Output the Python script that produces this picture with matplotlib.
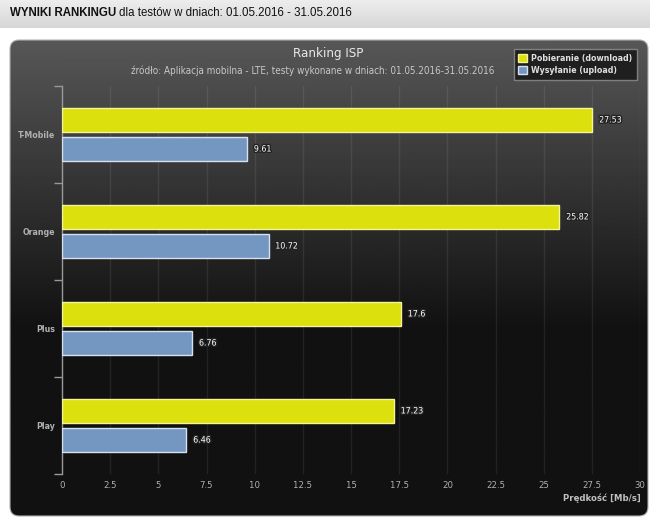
import numpy as np
import matplotlib
matplotlib.use('Agg')
import matplotlib.pyplot as plt
import matplotlib.patheffects as pe
from matplotlib.patches import FancyBboxPatch

# data
operators = ['T-Mobile', 'Orange', 'Plus', 'Play']
download = [27.53, 25.82, 17.6, 17.23]
upload = [9.61, 10.72, 6.76, 6.46]
download_labels = ['27.53', '25.82', '17.6', '17.23']
upload_labels = ['9.61', '10.72', '6.76', '6.46']
x_ticks = [0, 2.5, 5, 7.5, 10, 12.5, 15, 17.5, 20, 22.5, 25, 27.5, 30]
x_tick_labels = ['0', '2.5', '5', '7.5', '10', '12.5', '15', '17.5', '20', '22.5', '25', '27.5', '30']

W, H = 650, 520
cond = dict(family='DejaVu Sans', stretch='condensed')

fig = plt.figure(figsize=(6.5, 5.2), dpi=100)
fig.patch.set_facecolor('white')

## background: header band + rounded dark panel
bg = fig.add_axes([0, 0, 1, 1])
bg.axis('off')

head = np.linspace(0.93, 0.84, 50).reshape(-1, 1)
bg.imshow(head, cmap='gray', vmin=0, vmax=1, extent=(0, W, 28, 0),
          aspect='auto', origin='upper')

panel = FancyBboxPatch((10, 40), 638, 476, boxstyle='round,pad=0,rounding_size=9',
                       facecolor='none', edgecolor='#b0b0b0', linewidth=0.8)
bg.add_patch(panel)
t = np.linspace(0, 1, 300)
shade = np.where(t < 0.6, 0.34 - (0.34 - 0.07) * (t / 0.6), 0.07)
im = bg.imshow(shade.reshape(-1, 1), cmap='gray', vmin=0, vmax=1,
               extent=(10, 648, 516, 40), aspect='auto', origin='upper')
im.set_clip_path(panel)
bg.set_xlim(0, W)
bg.set_ylim(H, 0)

## header text: bold part, then the rest right after it
t1 = fig.text(10 / W, 1 - 13 / H, 'WYNIKI RANKINGU', fontsize=8.3, fontweight='bold',
              family='Liberation Sans', va='center', color='#111111')
fig.canvas.draw()
x_end = t1.get_window_extent().x1
fig.text(x_end / W + 0.004, 1 - 13 / H, 'dla testów w dniach: 01.05.2016 - 31.05.2016',
         fontsize=8.3, family='Liberation Sans', va='center', color='#111111')

## titles
fig.text(328 / W, 1 - 54 / H, 'Ranking ISP', fontsize=9.5, ha='center', va='center',
         color='#e8e8e8', **cond)
fig.text(313 / W, 1 - 71 / H,
         'źródło: Aplikacja mobilna - LTE, testy wykonane w dniach: 01.05.2016-31.05.2016',
         fontsize=7.1, ha='center', va='center', color='#c8c8c8', **cond)

## plot area
ax = fig.add_axes([62 / W, 1 - 474 / H, 578 / W, 388 / H])
ax.set_facecolor('none')

y = np.arange(len(operators))
off = 0.15
h = 0.24
ax.barh(y - off, download, height=h, color='#dce00c', edgecolor='#f4f49a',
        linewidth=1, zorder=3, label='Pobieranie (download)')
ax.barh(y + off, upload, height=h, color='#7497c2', edgecolor='#d6e0ee',
        linewidth=1, zorder=3, label='Wysyłanie (upload)')

stroke = [pe.withStroke(linewidth=2, foreground='#222222')]
for i in range(len(operators)):
    ax.text(download[i] + 0.35, y[i] - off, download_labels[i], fontsize=6.3,
            color='white', va='center', zorder=4, path_effects=stroke, **cond)
    ax.text(upload[i] + 0.35, y[i] + off, upload_labels[i], fontsize=6.3,
            color='white', va='center', zorder=4, path_effects=stroke, **cond)

ax.set_xlim(0, 30)
ax.set_ylim(3.5, -0.5)
ax.set_xticks(x_ticks)
ax.set_xticklabels(x_tick_labels, fontsize=6.8, color='#b0b0b0', **cond)
ax.set_yticks(y)
ax.set_yticklabels(operators, fontsize=6.3, fontweight='bold', color='#b0b0b0', **cond)
ax.set_yticks(np.arange(-0.5, 4, 1), minor=True)
ax.tick_params(axis='x', length=0, pad=5)
ax.tick_params(axis='y', which='major', length=0, pad=5)
ax.tick_params(axis='y', which='minor', length=6, color='#999999', width=1)

ax.grid(axis='x', color='white', alpha=0.08, linewidth=1, zorder=0)
for s in ['top', 'right', 'bottom']:
    ax.spines[s].set_visible(False)
ax.spines['left'].set_color('#999999')
ax.spines['left'].set_linewidth(1)

fig.text(641 / W, 1 - 498 / H, 'Prędkość [Mb/s]', fontsize=6.8, fontweight='bold',
         ha='right', va='center', color='#c0c0c0', **cond)

## legend
leg = ax.legend(loc='upper right', bbox_to_anchor=(641 / W, 1 - 45 / H),
                bbox_transform=fig.transFigure, frameon=True,
                handlelength=1.0, handleheight=1.0, handletextpad=0.5,
                borderpad=0.5, labelspacing=0.4, fancybox=False,
                prop=dict(weight='bold', size=6.3, **cond))
leg.get_frame().set_facecolor('#1a1a1a')
leg.get_frame().set_edgecolor('#888888')
leg.get_frame().set_alpha(0.9)
for txt in leg.get_texts():
    txt.set_color('#e0e0e0')

fig.savefig('out.png', dpi=100)
